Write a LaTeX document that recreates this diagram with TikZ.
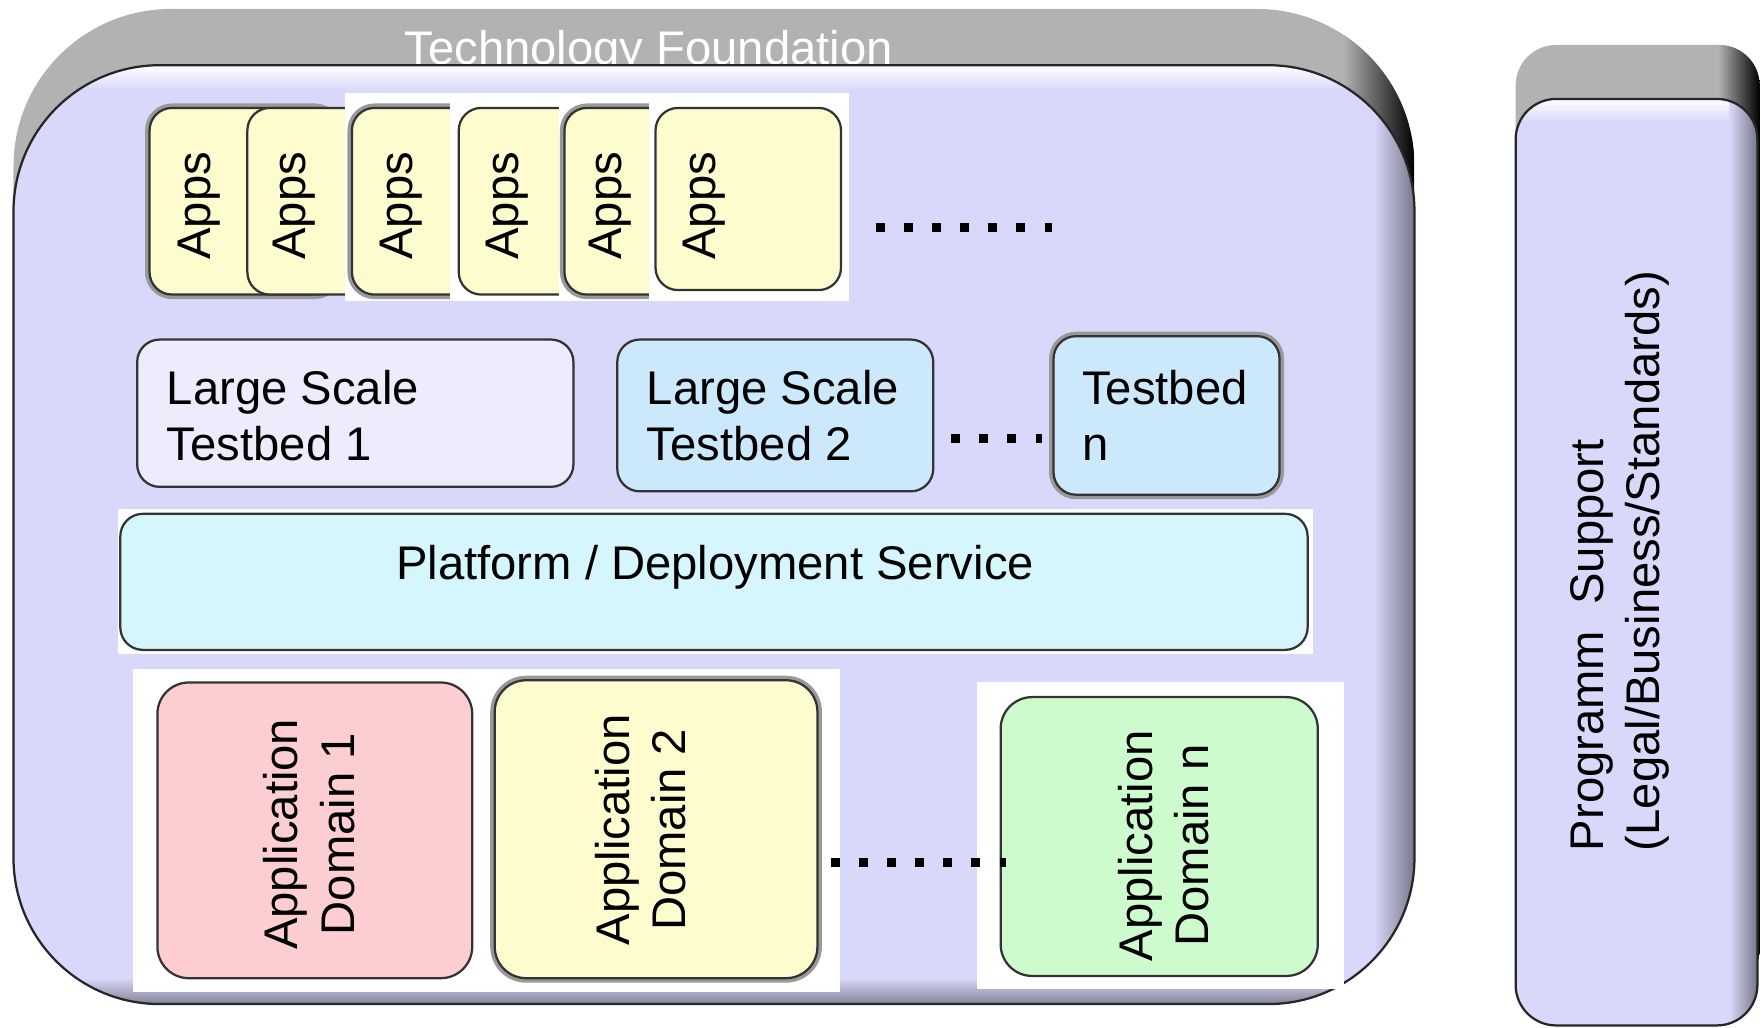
\documentclass[tikz,border=0pt]{standalone}
\usepackage{fontspec}
\setmainfont{Liberation Sans}
\usetikzlibrary{fit}

\definecolor{faceblue}{RGB}{216,216,250}
\definecolor{bezelgray}{RGB}{178,178,178}
\definecolor{appyellow}{RGB}{252,252,206}
\definecolor{tbone}{RGB}{236,236,253}
\definecolor{tbblue}{RGB}{204,233,251}
\definecolor{platcyan}{RGB}{213,246,253}
\definecolor{domred}{RGB}{252,206,209}
\definecolor{domgreen}{RGB}{206,251,206}

\newcommand\Rbig{65pt}
\newcommand\Rsmall{18pt}

\tikzset{
  box/.style={draw=black!80, line width=1pt, rounded corners=10pt, inner sep=0pt},
  shadowed/.style={preaction={draw=black!40, line width=4pt}},
  lbl/.style={font=\fontsize{21}{25}\selectfont, inner sep=0pt},
  vlbl/.style={lbl, rotate=90},
  dots/.style={line width=4pt, dash pattern=on 4pt off 8.5pt},
}

\begin{document}
\begin{tikzpicture}[x=0.5pt, y=-0.5pt]
  \useasboundingbox (0,0) rectangle (1568,914);

  %% technology foundation, back
  \begin{scope}
    \clip[rounded corners=70pt] (12,8) rectangle (1258,850);
    \fill[bezelgray] (0,0) rectangle (1300,900);
    \shade[left color=bezelgray, right color=black] (1195,0) rectangle (1258,900);
  \end{scope}
  \node[lbl, text=white, anchor=base] (tf) at (577,57) {Technology Foundation};

  %% technology foundation, face
  \begin{scope}
    \clip[rounded corners=\Rbig] (12,58) rectangle (1258,893);
    \fill[faceblue] (0,0) rectangle (1300,950);
    \shade[top color=white, bottom color=faceblue] (0,58) rectangle (1300,80);
    \shade[left color=faceblue, right color=faceblue!55!black] (1222,0) rectangle (1258,950);
    \shade[top color=faceblue, bottom color=faceblue!60!black] (0,870) rectangle (1300,893);
  \end{scope}
  \draw[black!85, line width=1pt, rounded corners=\Rbig] (12,58) rectangle (1258,893);

  %% programm support, back and face
  \begin{scope}
    \clip[rounded corners=\Rsmall] (1348,40) rectangle (1565,880);
    \fill[bezelgray] (1340,0) rectangle (1570,900);
    \shade[left color=bezelgray, right color=black] (1528,0) rectangle (1565,900);
  \end{scope}
  \begin{scope}
    \clip[rounded corners=\Rsmall] (1348,88) rectangle (1563,912);
    \fill[faceblue] (1340,0) rectangle (1570,920);
    \shade[top color=white, bottom color=faceblue] (1340,88) rectangle (1570,108);
    \shade[left color=faceblue, right color=faceblue!55!black] (1538,0) rectangle (1563,920);
  \end{scope}
  \draw[black!85, line width=1pt, rounded corners=\Rsmall] (1348,88) rectangle (1563,912);
  \node[vlbl, align=left] (ps) at (1441,499) {Programm\ \ Support\\(Legal/Business/Standards)};

  %% apps
  \fill[white] (307,83) rectangle (755,268);
  \node[box, fill=appyellow, shadowed, fit={(133,96) (300,262)}] (app1) {};
  \node[box, fill=appyellow, fit={(220,96) (340,262)}] (app2) {};
  \fill[white] (307,83) rectangle (755,268);
  \node[box, fill=appyellow, shadowed, fit={(313,96) (440,262)}] (app3) {};
  \fill[white] (400,83) rectangle (755,268);
  \node[box, fill=appyellow, fit={(408,96) (540,262)}] (app4) {};
  \fill[white] (497,83) rectangle (755,268);
  \node[box, fill=appyellow, shadowed, fit={(502,96) (620,262)}] (app5) {};
  \fill[white] (577,83) rectangle (755,268);
  \node[box, fill=appyellow, fit={(583,96) (748,258)}] (app6) {};
  \node[vlbl] (a1) at (177,183) {Apps};
  \node[vlbl] (a2) at (262,183) {Apps};
  \node[vlbl] (a3) at (357,183) {Apps};
  \node[vlbl] (a4) at (451,183) {Apps};
  \node[vlbl] (a5) at (543,183) {Apps};
  \node[vlbl] (a6) at (626,183) {Apps};
  \coordinate (appsend) at (936,202);
  \draw[dots, shorten <=15pt] (app6.east |- appsend) -- (appsend);

  %% testbeds
  \node[box, fill=tbone, fit={(122,302) (510,433)}] (tb1) {};
  \node[box, fill=tbblue, fit={(549,302) (830,437)}] (tb2) {};
  \node[box, fill=tbblue, shadowed, fit={(937,299) (1138,440)}] (tbn) {};
  \node[lbl, align=left, anchor=north west] (tb1t) at (148,329) {Large Scale\\Testbed 1};
  \node[lbl, align=left, anchor=north west] (tb2t) at (575,329) {Large Scale\\Testbed 2};
  \node[lbl, align=left, anchor=north west] (tbnt) at (962,329) {Testbed\\n};
  \coordinate (tbdots) at (0,390);
  \draw[dots, shorten <=7.5pt, shorten >=4.5pt] (tb2.east |- tbdots) -- (tbn.west |- tbdots);

  %% platform
  \fill[white] (105,453) rectangle (1168,582);
  \node[box, fill=platcyan, fit={(107,457) (1163,578)}] (plat) {};
  \node[lbl, anchor=base] (platt) at (636,515) {Platform / Deployment Service};

  %% application domains
  \fill[white] (118,595) rectangle (747,882);
  \node[box, fill=domred, rounded corners=14pt, fit={(140,607) (420,870)}] (dom1) {};
  \node[box, fill=appyellow, shadowed, rounded corners=14pt, fit={(440,605) (727,870)}] (dom2) {};
  \fill[white] (869,607) rectangle (1195,880);
  \node[box, fill=domgreen, rounded corners=14pt, fit={(890,620) (1172,868)}] (domn) {};
  \node[vlbl, align=center] (d1t) at (275,742) {Application\\Domain 1};
  \node[vlbl, align=center] (d2t) at (570,738) {Application\\Domain 2};
  \node[vlbl, align=center] (dnt) at (1035,752) {Application\\Domain n};
  \coordinate (domdots) at (0,767);
  \draw[dots, shorten <=5.5pt, shorten >=-3pt] (dom2.east |- domdots) -- (domn.west |- domdots);

\end{tikzpicture}
\end{document}
